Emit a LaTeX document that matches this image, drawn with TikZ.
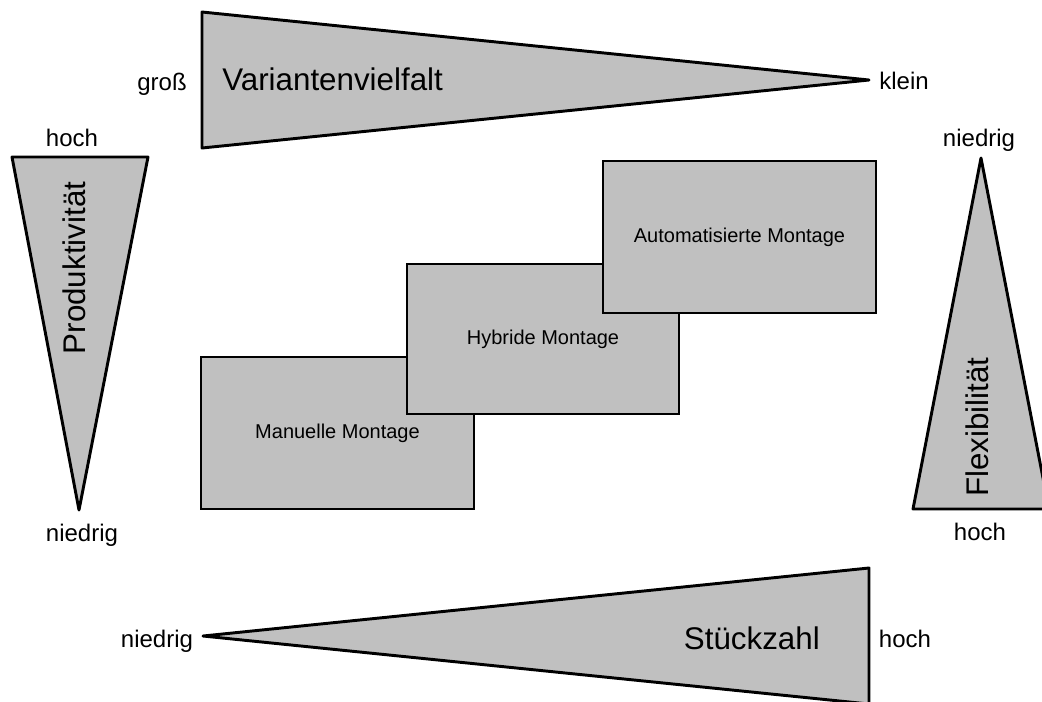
\documentclass[tikz,border=0pt]{standalone}
\usepackage{fontspec}
\setmainfont{Liberation Sans}
\definecolor{wedgegray}{RGB}{192,192,192}
\begin{document}
\begin{tikzpicture}[x=0.75pt,y=-0.75pt,
  wedge/.style={draw=black, fill=wedgegray, line width=2.2pt, line join=round},
  stagebox/.style={draw=black, fill=wedgegray, line width=2.2pt, inner sep=0pt,
    font=\fontsize{15pt}{18pt}\selectfont},
  bigtitle/.style={inner sep=0pt, font=\fontsize{23.5pt}{28pt}\selectfont},
  endlabel/.style={inner sep=0pt, anchor=base, font=\fontsize{18pt}{21pt}\selectfont}]
\useasboundingbox (0,0) rectangle (1042,701);
\clip (0,0) rectangle (1042,701);

% wedges along the four sides
\draw[wedge] (202,12) -- (869,80) -- (202,148) -- cycle;
\draw[wedge] (12,157) -- (148,157) -- (79,510) -- cycle;
\draw[wedge] (981,158) -- (1049,509) -- (913,509) -- cycle;
\draw[wedge] (203,636) -- (869,568) -- (869,704) -- cycle;

% wedge titles
\node[bigtitle, anchor=base west] (variety) at (222,90) {Variantenvielfalt};
\node[bigtitle, rotate=90] (productivity) at (74,268) {Produktivität};
\node[bigtitle, rotate=90] (flexibility) at (977,427) {Flexibilität};
\node[bigtitle, anchor=base east] (quantity) at (820,649) {Stückzahl};

% wedge end labels
\node[endlabel] (varLarge) at (162,90) {groß};
\node[endlabel] (varSmall) at (904,89) {klein};
\node[endlabel] (prodHigh) at (72,146) {hoch};
\node[endlabel] (prodLow) at (82,541) {niedrig};
\node[endlabel] (flexLow) at (979,146) {niedrig};
\node[endlabel] (flexHigh) at (980,540) {hoch};
\node[endlabel] (qtyLow) at (157,647) {niedrig};
\node[endlabel] (qtyHigh) at (905,647) {hoch};

% assembly stages, stacked from manual to automated
\node[stagebox, minimum width=204.75pt, minimum height=114pt] (manual) at (337.5,433) {Manuelle Montage};
\node[stagebox, minimum width=204pt, minimum height=112.5pt] (hybrid) at (543,339) {Hybride Montage};
\node[stagebox, minimum width=204.75pt, minimum height=114pt] (automated) at (739.5,237) {Automatisierte Montage};
\end{tikzpicture}
\end{document}
